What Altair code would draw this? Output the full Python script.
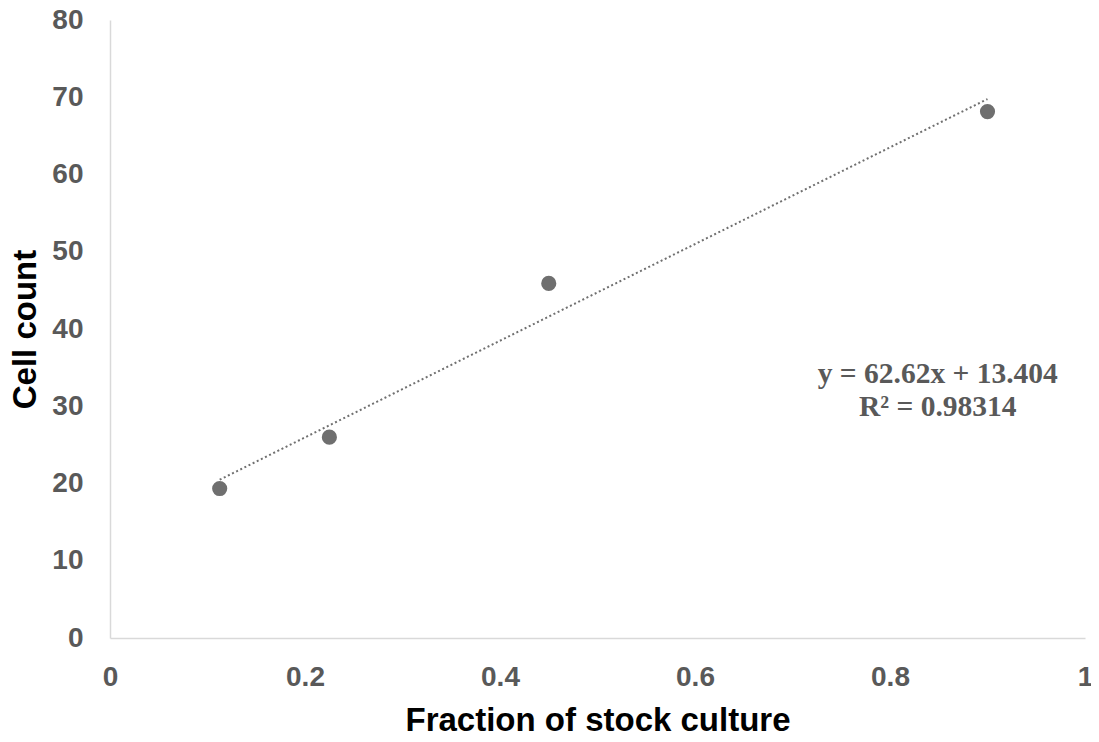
import altair as alt
import pandas as pd

# Data
fraction = [0.1125, 0.225, 0.45, 0.9]
cell_count = [19.35, 26.0, 45.9, 68.15]

x_ticks = [0, 0.2, 0.4, 0.6, 0.8, 1]
y_ticks = [0, 10, 20, 30, 40, 50, 60, 70, 80]

eq_lines = ["y = 62.62x + 13.404", "R² = 0.98314"]
eq_x = [0.849]
eq_y = [33.0]

df = pd.DataFrame({"fraction": fraction, "count": cell_count})
lab = pd.DataFrame({"x": eq_x, "y": eq_y, "t": ["\n".join(eq_lines)]})

GRAY = "#595959"

xscale = alt.Scale(domain=[0, 1], nice=False, zero=True)
yscale = alt.Scale(domain=[0, 80], nice=False)

xaxis = alt.Axis(values=x_ticks, format="~g", title="Fraction of stock culture",
                 grid=False, ticks=False, labelPadding=25, titlePadding=13,
                 domainColor="#d9d9d9", domainWidth=1.5,
                 labelFont="Liberation Sans", labelFontWeight="bold", labelFontSize=28,
                 labelColor=GRAY, titleFont="Liberation Sans", titleFontWeight="bold",
                 titleFontSize=33, titleColor="black", labelFlush=False)
yaxis = alt.Axis(values=y_ticks, title="Cell count", grid=False, ticks=False,
                 labelPadding=27, titlePadding=9,
                 domainColor="#d9d9d9", domainWidth=1.5,
                 labelFont="Liberation Sans", labelFontWeight="bold", labelFontSize=28,
                 labelColor=GRAY, titleFont="Liberation Sans", titleFontWeight="bold",
                 titleFontSize=33, titleColor="black", labelFlush=False)

base = alt.Chart(df)

points = base.mark_circle(size=230, color="#6f6f6f", opacity=1).encode(
    x=alt.X("fraction:Q", scale=xscale, axis=xaxis),
    y=alt.Y("count:Q", scale=yscale, axis=yaxis),
)

trend = base.transform_regression("fraction", "count").mark_line(
    color="#707070", strokeWidth=2, strokeDash=[2, 2.6]
).encode(
    x=alt.X("fraction:Q", scale=xscale),
    y=alt.Y("count:Q", scale=yscale),
)

label = alt.Chart(lab).mark_text(
    font="Liberation Serif", fontWeight="bold", fontSize=29.5, color=GRAY,
    align="center", baseline="alphabetic", lineBreak="\n", lineHeight=33,
).encode(
    x=alt.X("x:Q", scale=xscale),
    y=alt.Y("y:Q", scale=yscale),
    text="t:N",
)

chart = alt.layer(trend, points, label).properties(
    width=975, height=618,
    autosize=alt.AutoSizeParams(type="none"),
    padding={"left": 102, "top": 12, "right": 6, "bottom": 96},
).configure_view(stroke=None)

chart.save("out.html", embed_options={"renderer": "svg", "actions": False})
